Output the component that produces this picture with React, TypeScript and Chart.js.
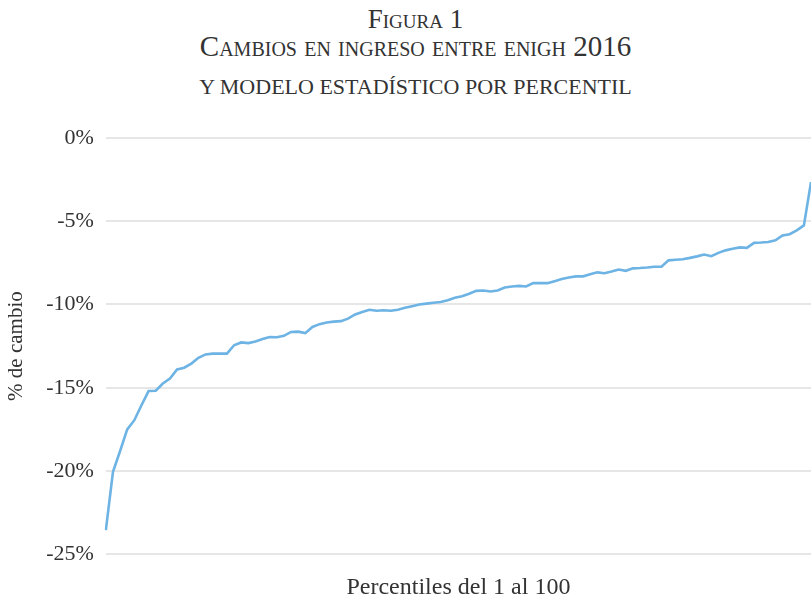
import React, { useEffect, useRef } from "react";
import { Chart, registerables } from "chart.js";

Chart.register(...registerables);

const TITLE_1 = "Figura 1";
const TITLE_2 = "Cambios en ingreso entre enigh 2016";
const TITLE_3 = "Y MODELO ESTADÍSTICO POR PERCENTIL";
const X_TITLE = "Percentiles del 1 al 100";
const Y_TITLE = "% de cambio";

const percentiles = Array.from({ length: 100 }, (_, i) => String(i + 1));

const cambio = [
  -23.55, -20.05, -18.8, -17.5, -16.95, -16.05, -15.2, -15.18, -14.75, -14.45,
  -13.9, -13.8, -13.55, -13.2, -13.0, -12.95, -12.95, -12.95, -12.45, -12.28,
  -12.32, -12.22, -12.08, -11.95, -11.97, -11.88, -11.65, -11.63, -11.72, -11.35,
  -11.18, -11.08, -11.03, -11.0, -10.85, -10.6, -10.45, -10.32, -10.38, -10.35,
  -10.38, -10.32, -10.2, -10.1, -10.0, -9.95, -9.9, -9.85, -9.75, -9.6,
  -9.5, -9.35, -9.18, -9.16, -9.22, -9.16, -8.98, -8.92, -8.88, -8.92,
  -8.72, -8.72, -8.72, -8.6, -8.47, -8.38, -8.31, -8.31, -8.18, -8.07,
  -8.12, -8.02, -7.9, -7.98, -7.83, -7.81, -7.78, -7.73, -7.73, -7.35,
  -7.31, -7.28, -7.2, -7.11, -7.0, -7.1, -6.9, -6.75, -6.65, -6.57,
  -6.6, -6.3, -6.28, -6.25, -6.15, -5.85, -5.78, -5.55, -5.25, -2.65,
];

const Y_MIN = -25;
const Y_MAX = 0;
const Y_STEP = 5;

const SERIF = "'Liberation Serif', 'Times New Roman', serif";
const TEXT = "#333333";

export default function App() {
  const ref = useRef<HTMLCanvasElement>(null);

  useEffect(() => {
    document.body.style.margin = "0";
    const chart = new Chart(ref.current as HTMLCanvasElement, {
      type: "line",
      data: {
        labels: percentiles,
        datasets: [
          {
            data: cambio,
            borderColor: "#6db3e4",
            borderWidth: 2.6,
            pointRadius: 0,
            tension: 0,
            fill: false,
          },
        ],
      },
      options: {
        animation: false,
        responsive: false,
        maintainAspectRatio: false,
        layout: { padding: { top: 28, right: 0, left: 2, bottom: 0 } },
        plugins: {
          legend: { display: false },
          tooltip: { enabled: false },
          title: { display: false },
        },
        scales: {
          x: {
            type: "category",
            offset: false,
            grid: { display: false, drawTicks: false },
            border: { display: false },
            ticks: { display: false },
            title: {
              display: true,
              text: X_TITLE,
              font: { family: SERIF, size: 24 },
              color: TEXT,
              padding: { top: 19, bottom: 8 },
            },
          },
          y: {
            min: Y_MIN,
            max: Y_MAX,
            ticks: {
              stepSize: Y_STEP,
              callback: (v: any) => v + "%",
              font: { family: SERIF, size: 22 },
              color: TEXT,
              padding: 12,
            },
            grid: { color: "#e6e6e6", lineWidth: 2, drawTicks: false },
            border: { display: false },
            title: {
              display: true,
              text: Y_TITLE,
              font: { family: SERIF, size: 21 },
              color: TEXT,
              padding: { top: 2, bottom: 5 },
            },
          },
        },
      },
    });
    return () => chart.destroy();
  }, []);

  const lineStyle = (top: number, size: number, caps: boolean): React.CSSProperties => ({
    position: "absolute",
    left: 10,
    width: 811,
    top,
    textAlign: "center",
    fontFamily: SERIF,
    fontSize: size,
    lineHeight: `${size}px`,
    fontVariant: caps ? "small-caps" : "normal",
    color: TEXT,
    whiteSpace: "nowrap",
  });

  return (
    <div style={{ position: "relative", width: 811, height: 596, background: "#fff", overflow: "hidden" }}>
      <div style={lineStyle(6, 27, true)}>{TITLE_1}</div>
      <div style={lineStyle(32, 29, true)}>{TITLE_2}</div>
      <div style={lineStyle(76, 22, false)}>{TITLE_3}</div>
      <canvas
        ref={ref}
        width={811}
        height={500}
        style={{ position: "absolute", left: 0, top: 110, width: 811, height: 500, display: "block" }}
      />
    </div>
  );
}
